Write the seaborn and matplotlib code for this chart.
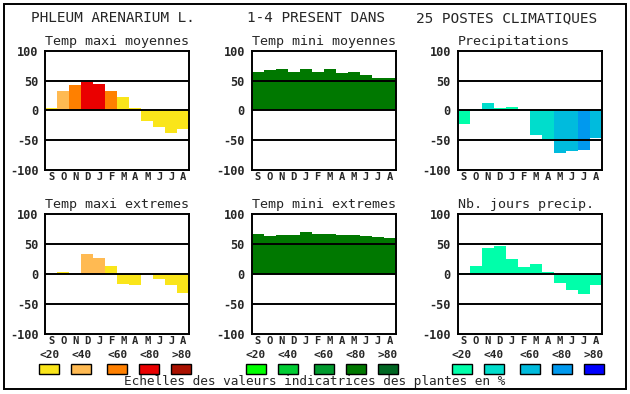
import numpy as np
import pandas as pd
import matplotlib
matplotlib.use('Agg')
import matplotlib.pyplot as plt
from matplotlib.patches import Rectangle
import seaborn as sns

sns.set_style('white')
plt.rcParams['font.family'] = ['DejaVu Sans Mono']

W, H = 630, 394

# %% data
months = ['S', 'O', 'N', 'D', 'J', 'F', 'M', 'A', 'M', 'J', 'J', 'A']
classes = ['<20', '<40', '<60', '<80', '>80']

maxi_moy = [4, 32, 42, 47, 45, 33, 22, 4, -18, -28, -38, -31]
mini_moy = [65, 67, 70, 65, 70, 65, 70, 63, 65, 60, 55, 55]
precip = [-23, 2, 13, 4, 5, 0, -42, -48, -72, -68, -67, -47]
maxi_ext = [0, 4, 0, 34, 27, 13, -16, -18, -2, -8, -18, -32]
mini_ext = [67, 63, 65, 65, 70, 67, 67, 65, 65, 64, 62, 60]
jours = [2, 13, 44, 47, 25, 12, 17, 3, -15, -26, -33, -18]

# classe indicatrice de chaque barre (0: <20 ... 4: >80, -1: blanc)
maxi_moy_cls = [0, 1, 2, 3, 3, 2, 0, 0, 0, 0, 0, 0]
mini_moy_cls = [3] * 12
precip_cls = [0, 0, 1, 0, 0, 0, 1, 1, 2, 2, 3, 2]
maxi_ext_cls = [0, 0, 0, 1, 1, 0, 0, 0, -1, 0, 0, 0]
mini_ext_cls = [3] * 12
jours_cls = [0] * 12

pal_maxi = ['#fae51a', '#ffba52', '#ff8000', '#ea0000', '#aa1100']
pal_mini = ['#00ff00', '#00cc33', '#009a2e', '#007800', '#006622']
pal_prec = ['#00ffaa', '#00ddcc', '#00bbdd', '#0099ee', '#0000ff']

panels = [
    ('Temp maxi moyennes', maxi_moy, maxi_moy_cls, pal_maxi),
    ('Temp mini moyennes', mini_moy, mini_moy_cls, pal_mini),
    ('Precipitations', precip, precip_cls, pal_prec),
    ('Temp maxi extremes', maxi_ext, maxi_ext_cls, pal_maxi),
    ('Temp mini extremes', mini_ext, mini_ext_cls, pal_mini),
    ('Nb. jours precip.', jours, jours_cls, pal_prec),
]

# %% figure
fig = plt.figure(figsize=(W / 100, H / 100), dpi=100)
fig.patch.set_facecolor('white')

lefts = [45.3, 251.7, 457.7]
rows = [(50.7, 170), (214, 334)]
axw = 144

for i, (title, vals, cls, pal) in enumerate(panels):
    r, c = divmod(i, 3)
    top, bot = rows[r]
    ax = fig.add_axes([lefts[c] / W, (H - bot) / H, axw / W, (bot - top) / H])
    df = pd.DataFrame({'pos': range(12), 'val': vals})
    cols = {k: (pal[cl] if cl >= 0 else '#f4f4f4') for k, cl in enumerate(cls)}
    sns.barplot(data=df, x='pos', y='val', hue='pos', palette=cols, legend=False,
                width=1.0, saturation=1, linewidth=0, ax=ax)
    for y in (50, 0, -50):
        ax.axhline(y, color='black', lw=1.4, zorder=3)
    ax.set_xlim(-0.5, 11.5)
    ax.set_ylim(-100, 100)
    ax.set_yticks([-100, -50, 0, 50, 100])
    ax.set_yticklabels(['-100', '-50', '0', '50', '100'], fontweight='bold', fontsize=8.6)
    ax.set_xticks(range(12))
    ax.set_xticklabels(months, fontweight='bold', fontsize=7.6)
    ax.tick_params(axis='both', length=0)
    ax.tick_params(axis='y', pad=5)
    ax.tick_params(axis='x', pad=1.5)
    ax.set_xlabel('')
    ax.set_ylabel('')
    for s in ax.spines.values():
        s.set_color('black')
        s.set_linewidth(1.4)
        s.set_zorder(4)
    ax.set_title(title, loc='left', fontsize=9.6, pad=4)

# legend scales under the bottom row
offsets = [4, 36, 72, 104, 136]
for c, pal in enumerate([pal_maxi, pal_mini, pal_prec]):
    for k, (lab, col) in enumerate(zip(classes, pal)):
        cx = lefts[c] + offsets[k]
        fig.text(cx / W, 1 - 355 / H, lab, ha='center', va='center',
                 fontsize=8, fontweight='bold')
        fig.add_artist(Rectangle(((cx - 10) / W, 1 - 374 / H), 20 / W, 10 / H,
                                 transform=fig.transFigure, facecolor=col,
                                 edgecolor='black', lw=1))

fig.text(315 / W, 1 - 382 / H, 'Echelles des valeurs indicatrices des plantes en %',
         ha='center', va='center', fontsize=9.2)

# main heading
fig.text(31 / W, 1 - 18 / H, 'PHLEUM ARENARIUM L.', ha='left', va='center', fontsize=10.4)
fig.text(247 / W, 1 - 18 / H, '1-4 PRESENT DANS', ha='left', va='center', fontsize=10.4)
fig.text(597 / W, 1 - 18 / H, '25 POSTES CLIMATIQUES', ha='right', va='center', fontsize=10.4)

# outer frame
fig.add_artist(Rectangle((4 / W, 1 - 389 / H), 622 / W, 385 / H,
                         transform=fig.transFigure, fill=False, edgecolor='black', lw=1.4))

fig.savefig('out.png', dpi=100, facecolor='white')
